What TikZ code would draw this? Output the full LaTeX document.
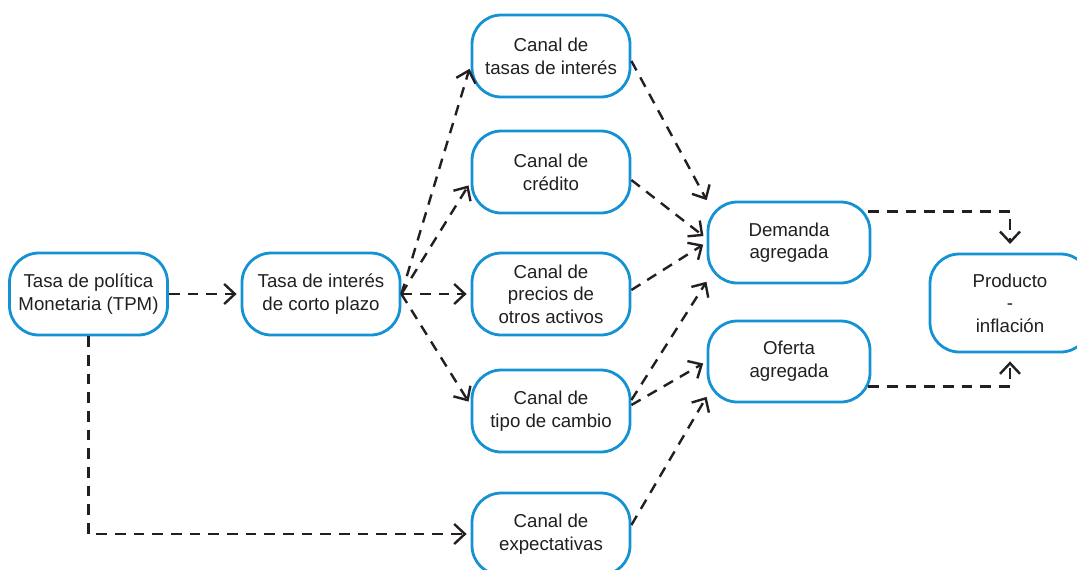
\documentclass[tikz,border=0pt]{standalone}
\usepackage{fontspec}
\setmainfont{Liberation Sans}
\usetikzlibrary{arrows.meta,calc}
\definecolor{nodeblue}{RGB}{20,146,212}
\definecolor{ink}{RGB}{35,31,32}
\begin{document}
\begin{tikzpicture}[x=0.75pt,y=-0.75pt,
  box/.style={draw=nodeblue, line width=2.1pt, rounded corners=22pt, fill=white,
    minimum width=118.5pt, minimum height=61.5pt, align=center, text=ink,
    font=\fontsize{14}{17}\selectfont, inner sep=0pt},
  wbox/.style={box, minimum width=121.5pt, minimum height=60.75pt},
  pbox/.style={box, minimum width=120pt, minimum height=73.5pt},
  link/.style={draw=ink, line width=1.8pt, dash pattern=on 8pt off 6pt,
    -{Straight Barb[length=8pt,width=15pt,line width=1.8pt]}, shorten >=3pt}
]
\useasboundingbox (0,0) rectangle (1077,569);
\clip (0,0) rectangle (1077,569);

\node[box] (tpm) at (88.5,294) {Tasa de política\\Monetaria (TPM)};
\node[box] (tic) at (321,294) {Tasa de interés\\de corto plazo};
\node[box] (c1) at (551,56) {Canal de\\tasas de interés};
\node[box] (c2) at (551,172) {Canal de\\crédito};
\node[box] (c3) at (551,294) {Canal de\\precios de\\otros activos};
\node[box] (c4) at (551,411) {Canal de\\tipo de cambio};
\node[box] (c5) at (551,534) {Canal de\\expectativas};
\node[wbox] (dem) at (789,242.5) {Demanda\\agregada};
\node[wbox] (ofe) at (789,361.5) {Oferta\\agregada};
\node[pbox] (prod) at (1010,303) {Producto\\-\\inflación};

\draw[link] (tpm) -- (tic);
\draw[link] (tpm.south) |- (c5);
\draw[link] (tic.east) -- ($(c1.west)+(0,9)$);
\draw[link] (tic.east) -- ($(c2.west)+(0,10)$);
\draw[link] (tic.east) -- (c3.west);
\draw[link] (tic.east) -- ($(c4.west)+(0,-6)$);
\draw[link] ($(c1.east)+(0,5)$) -- ($(dem.north west)+(2,3)$);
\draw[link] ($(c2.east)+(0,8)$) -- ($(dem.west)+(0,-4)$);
\draw[link] ($(c3.east)+(0,-4)$) -- (dem.west);
\draw[link] ($(c4.east)+(0,-11)$) -- ($(dem.south west)+(2,-6)$);
\draw[link] ($(c4.east)+(0,-6)$) -- (ofe.west);
\draw[link] ($(c5.east)+(0,-9)$) -- ($(ofe.south west)+(2,-10)$);
\draw[link, shorten >=6.5pt] ($(dem.north east)+(-3,11)$) -| (prod.north);
\draw[link, shorten >=6pt] ($(ofe.south east)+(-3,-17)$) -| (prod.south);
\end{tikzpicture}
\end{document}
